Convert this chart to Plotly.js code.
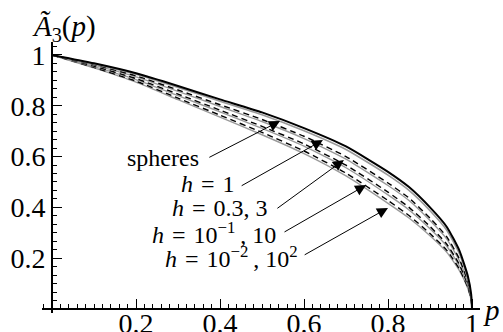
<!DOCTYPE html>
<html>
<head>
<meta charset="utf-8">
<script src="https://cdn.plot.ly/plotly-3.0.1.min.js"></script>
<style>html,body{margin:0;padding:0;background:#fff}#chart{width:503px;height:332px}</style>
</head>
<body>
<div id="chart"></div>
<script>
// p grid
const pGrid = [0, 0.1, 0.2, 0.3, 0.4, 0.5, 0.6, 0.7, 0.8, 0.85, 0.9, 0.94, 0.97, 0.99, 0.998, 1];
// curves
const spheres = [1, 0.967, 0.928, 0.878, 0.825, 0.774, 0.712, 0.640, 0.540, 0.480, 0.400, 0.323, 0.230, 0.130, 0.058, 0];
const h1      = [1, 0.965, 0.924, 0.872, 0.818, 0.765, 0.702, 0.628, 0.527, 0.467, 0.387, 0.310, 0.218, 0.120, 0.054, 0];
const h03     = [1, 0.962, 0.918, 0.862, 0.804, 0.746, 0.680, 0.600, 0.496, 0.437, 0.358, 0.284, 0.197, 0.108, 0.048, 0];
const h3      = [1, 0.960, 0.914, 0.857, 0.797, 0.738, 0.671, 0.590, 0.486, 0.427, 0.348, 0.275, 0.190, 0.103, 0.046, 0];
const h01     = [1, 0.956, 0.907, 0.846, 0.783, 0.719, 0.650, 0.566, 0.460, 0.400, 0.325, 0.255, 0.175, 0.095, 0.042, 0];
const h10     = [1, 0.954, 0.903, 0.840, 0.776, 0.711, 0.641, 0.556, 0.449, 0.390, 0.316, 0.247, 0.169, 0.091, 0.040, 0];
const h001    = [1, 0.951, 0.897, 0.830, 0.763, 0.695, 0.622, 0.535, 0.427, 0.368, 0.297, 0.231, 0.157, 0.085, 0.037, 0];
const h100    = [1, 0.949, 0.893, 0.824, 0.755, 0.686, 0.612, 0.524, 0.416, 0.358, 0.288, 0.223, 0.151, 0.081, 0.035, 0];

const xTicks = [0.2, 0.4, 0.6, 0.8, 1];
const xTickText = ['0.2', '0.4', '0.6', '0.8', '1'];
const yTicks = [0.2, 0.4, 0.6, 0.8, 1];
const yTickText = ['0.2', '0.4', '0.6', '0.8', '1'];

const S = '\u2004';
const labels = ['spheres', '<i>h</i>' + S + '=' + S + '1', '<i>h</i>' + S + '=' + S + '0.3, 3',
  '<i>h</i>' + S + '=' + S + '10<sup>−1</sup>\u2009, 10', '<i>h</i>' + S + '=' + S + '10<sup>−2</sup>\u2009, 10<sup>2</sup>'];
// label anchor (right end) and arrow tail/tip, in data coordinates
const labelPos = [[0.355, 0.594], [0.440, 0.492], [0.520, 0.397], [0.537, 0.298], [0.590, 0.205]];
const arrowTail = [[0.371, 0.594], [0.448, 0.482], [0.533, 0.392], [0.550, 0.300], [0.598, 0.210]];
const arrowTip = [[0.543, 0.740], [0.645, 0.665], [0.695, 0.587], [0.748, 0.488], [0.800, 0.398]];

const GRAY = '#9a9a9a';
const serif = 'Liberation Serif, Times New Roman, serif';

function tr(y, color, width, dash) {
  return {x: pGrid, y: y, type: 'scatter', mode: 'lines', line: {color: color, width: width, dash: dash || 'solid', shape: 'spline', smoothing: 0.5}, hoverinfo: 'skip'};
}

const data = [
  tr(h100, GRAY, 1.4),
  tr(h001, '#000', 1.4, '6px,4px'),
  tr(h10, GRAY, 1.4),
  tr(h01, '#000', 1.4, '6px,4px'),
  tr(h3, GRAY, 1.4),
  tr(h03, '#000', 1.4, '6px,4px'),
  tr(h1, GRAY, 1.6),
  tr(spheres, '#000', 2.0)
];

const annotations = [];
for (let i = 0; i < labels.length; i++) {
  annotations.push({x: labelPos[i][0], y: labelPos[i][1], xref: 'x', yref: 'y', text: labels[i], showarrow: false,
    xanchor: 'right', yanchor: 'middle', font: {family: serif, size: 24, color: '#000'}});
  annotations.push({x: arrowTip[i][0], y: arrowTip[i][1], ax: arrowTail[i][0], ay: arrowTail[i][1], xref: 'x', yref: 'y', axref: 'x', ayref: 'y',
    text: '', showarrow: true, arrowhead: 2, arrowsize: 2.2, arrowwidth: 1, arrowcolor: '#000', standoff: 0, startstandoff: 0});
}
annotations.push({x: 0.05, y: 1.052, xref: 'paper', yref: 'paper', text: '<i>Ã</i><sub>3</sub>(<i>p</i>)', showarrow: false,
  xanchor: 'center', yanchor: 'middle', font: {family: serif, size: 29, color: '#000'}});
annotations.push({x: 1.027, y: 0.012, xref: 'paper', yref: 'paper', text: '<i>p</i>', showarrow: false,
  xanchor: 'center', yanchor: 'middle', font: {family: serif, size: 29, color: '#000'}});

const layout = {
  width: 503, height: 332,
  margin: {l: 42, r: 23, t: 42, b: 19, pad: 0},
  paper_bgcolor: '#fff', plot_bgcolor: '#fff',
  showlegend: false,
  xaxis: {range: [-0.0238, 1.019], anchor: 'free', position: 0.0147, showgrid: false, zeroline: false,
    showline: true, linecolor: '#000', linewidth: 2,
    tickvals: xTicks, ticktext: xTickText, ticks: 'inside', ticklen: 9, tickwidth: 1, tickcolor: '#000',
    ticklabelstandoff: -11,
    minor: {dtick: 0.02, tick0: 0, ticks: 'inside', ticklen: 4, tickwidth: 1, tickcolor: '#000', showgrid: false},
    tickfont: {family: serif, size: 28, color: '#000'}},
  yaxis: {range: [-0.0157, 1.051], anchor: 'free', position: 0.0228, showgrid: false, zeroline: false,
    showline: true, linecolor: '#000', linewidth: 2,
    tickvals: yTicks, ticktext: yTickText, ticks: 'inside', ticklen: 9, tickwidth: 1, tickcolor: '#000',
    minor: {dtick: 0.2/6, tick0: 0, ticks: 'inside', ticklen: 4, tickwidth: 1, tickcolor: '#000', showgrid: false},
    tickfont: {family: serif, size: 28, color: '#000'}},
  annotations: annotations
};

Plotly.newPlot('chart', data, layout, {staticPlot: true, displayModeBar: false});
</script>
</body>
</html>
